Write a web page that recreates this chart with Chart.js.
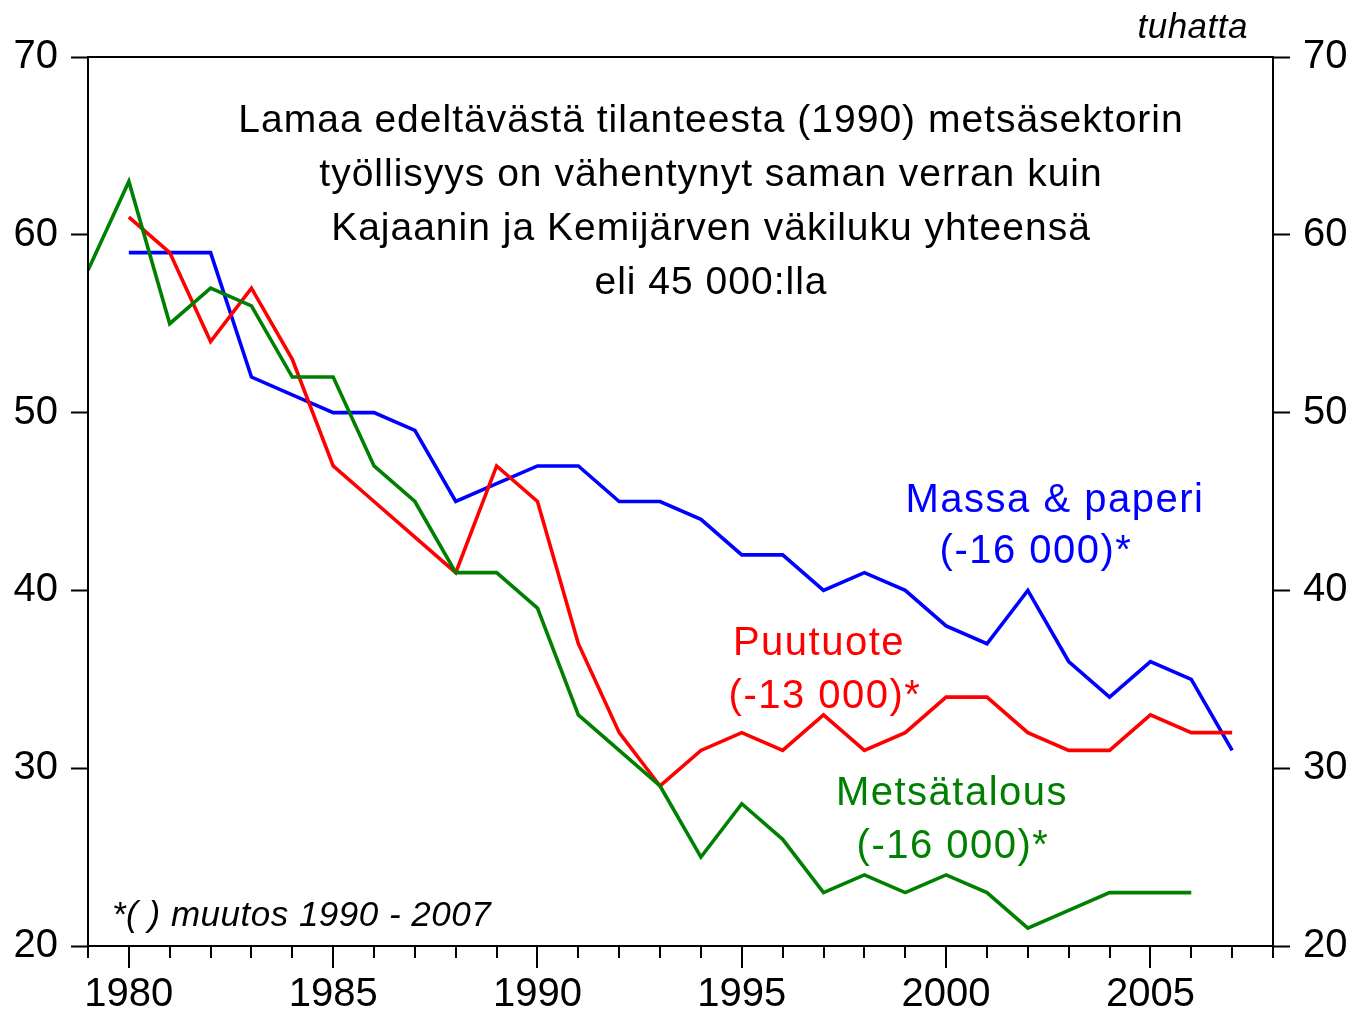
<!DOCTYPE html>
<html>
<head>
<meta charset="utf-8">
<script src="https://cdn.jsdelivr.net/npm/chart.js@4"></script>
<style>
html,body{margin:0;padding:0;background:#fff;}
#wrap{width:1353px;height:1010px;position:relative;}
</style>
</head>
<body>
<div id="wrap"><canvas id="c" width="1353" height="1010"></canvas></div>
<script>
const years = [1979,1980,1981,1982,1983,1984,1985,1986,1987,1988,1989,1990,1991,1992,1993,1994,1995,1996,1997,1998,1999,2000,2001,2002,2003,2004,2005,2006,2007];
const massaPaperi = [null,59,59,59,52,51,50,50,49,45,46,47,47,45,45,44,42,42,40,41,40,38,37,40,36,34,36,35,31];
const puutuote    = [null,61,59,54,57,53,47,45,43,41,47,45,37,32,29,31,32,31,33,31,32,34,34,32,31,31,33,32,32];
const metsatalous = [58,63,55,57,56,52,52,47,45,41,41,39,33,31,29,25,28,26,23,24,23,24,23,21,22,23,23,23,null];
const yTicks = [20,30,40,50,60,70];
const xMin = 1979, xMax = 2008;
const titleLines = ["Lamaa edeltävästä tilanteesta (1990) metsäsektorin","työllisyys on vähentynyt saman verran kuin","Kajaanin ja Kemijärven väkiluku yhteensä","eli 45 000:lla"];
const unitLabel = "tuhatta";
const noteLabel = "*( ) muutos 1990 - 2007";
const seriesLabels = [
  {lines:["Massa & paperi","(-16 000)*"], color:"#0000FF", x:[1055,1036], y:[512,563]},
  {lines:["Puutuote","(-13 000)*"], color:"#FF0000", x:[819,825], y:[655,708]},
  {lines:["Metsätalous","(-16 000)*"], color:"#008000", x:[952,953], y:[805,858]}
];

const FONT = "'Liberation Sans', Arial, sans-serif";
const toPts = arr => years.map((y,i)=>({x:y,y:arr[i]}));

const frameAndText = {
  id:'frameAndText',
  afterDraw(chart){
    const ctx = chart.ctx, a = chart.chartArea, xs = chart.scales.x;
    ctx.save();
    ctx.strokeStyle = '#000'; ctx.lineWidth = 2;
    ctx.strokeRect(a.left, a.top, a.right-a.left, a.bottom-a.top);
    for (let v = xMin; v <= xMax; v++){
      const px = Math.round(xs.getPixelForValue(v));
      const len = (v % 5 === 0) ? 22 : 12;
      ctx.beginPath(); ctx.moveTo(px, a.bottom); ctx.lineTo(px, a.bottom+len); ctx.stroke();
    }
    ctx.fillStyle = '#000';
    ctx.textAlign = 'center'; ctx.textBaseline = 'alphabetic';
    ctx.font = '39px ' + FONT;
    ctx.letterSpacing = '1px';
    titleLines.forEach((t,i)=> ctx.fillText(t, 711, 132 + i*54));
    ctx.font = 'italic 35px ' + FONT;
    ctx.letterSpacing = '0.5px';
    ctx.textAlign = 'right';
    ctx.fillText(unitLabel, 1248, 38);
    ctx.textAlign = 'left';
    ctx.fillText(noteLabel, 112, 926);
    ctx.textAlign = 'center';
    ctx.font = '40px ' + FONT;
    ctx.letterSpacing = '1.5px';
    seriesLabels.forEach(s=>{
      ctx.fillStyle = s.color;
      s.lines.forEach((t,i)=> ctx.fillText(t, s.x[i], s.y[i]));
    });
    ctx.restore();
  }
};

const yScale = (pos, w) => ({
  type:'linear', position:pos, min:20, max:70,
  afterBuildTicks: s => { s.ticks = yTicks.map(v=>({value:v})); },
  afterFit: s => { s.width = w; },
  border:{display:true, color:'#000', width:2},
  grid:{drawOnChartArea:false, drawTicks:true, tickLength:17, tickColor:'#000', tickWidth:2},
  ticks:{color:'#000', font:{family:FONT, size:40}, padding:13}
});

new Chart(document.getElementById('c'), {
  type:'line',
  data:{
    datasets:[
      {label:'Metsätalous', data:toPts(metsatalous), borderColor:'#008000', borderWidth:3.6, pointRadius:0, tension:0, spanGaps:false, yAxisID:'y'},
      {label:'Puutuote', data:toPts(puutuote), borderColor:'#FF0000', borderWidth:3.6, pointRadius:0, tension:0, spanGaps:false, yAxisID:'y'},
      {label:'Massa & paperi', data:toPts(massaPaperi), borderColor:'#0000FF', borderWidth:3.6, pointRadius:0, tension:0, spanGaps:false, yAxisID:'y'}
    ]
  },
  options:{
    responsive:false, animation:false, devicePixelRatio:1,
    layout:{padding:{top:57, left:0, right:0, bottom:0}},
    plugins:{legend:{display:false}, tooltip:{enabled:false}},
    scales:{
      x:{
        type:'linear', position:'bottom', min:xMin, max:xMax,
        afterBuildTicks: s => { const t=[]; for(let v=xMin; v<=xMax; v++) t.push({value:v}); s.ticks = t; },
        afterFit: s => { s.height = 64; },
        border:{display:true, color:'#000', width:2},
        grid:{drawOnChartArea:false, drawTicks:true, tickLength:22, tickColor:'rgba(0,0,0,0)'},
        ticks:{color:'#000', font:{family:FONT, size:40}, padding:3, maxRotation:0, autoSkip:false,
               callback: v => (v % 5 === 0 ? String(v) : '')}
      },
      y: yScale('left', 88),
      y2: Object.assign(yScale('right', 80), {display:true})
    }
  },
  plugins:[frameAndText]
});
</script>
</body>
</html>
